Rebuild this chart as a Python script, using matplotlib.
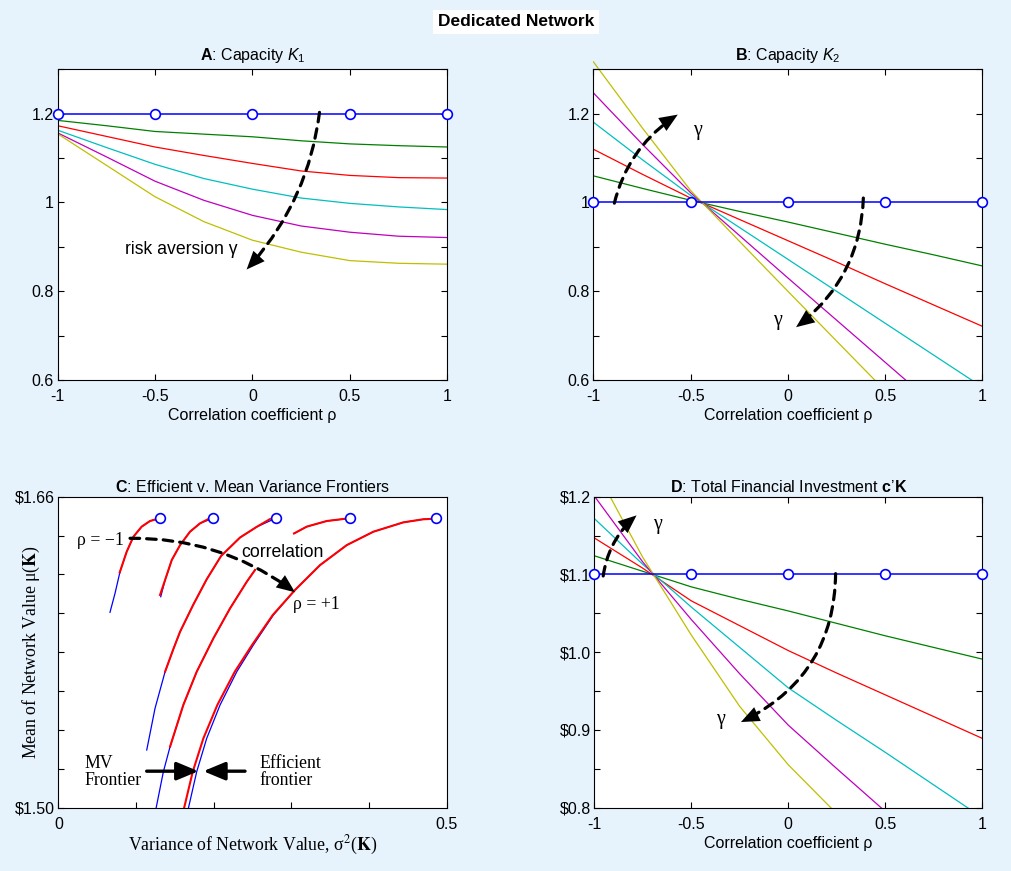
import matplotlib
matplotlib.use("Agg")
import matplotlib.pyplot as plt
import numpy as np
from matplotlib.transforms import Bbox, TransformedBbox

SANS = ["Liberation Sans", "DejaVu Sans"]
SERIF = ["Liberation Serif", "DejaVu Serif"]

# correlation grid and the risk-neutral reference points
rho = [-1, -0.75, -0.5, -0.25, 0, 0.25, 0.5, 0.75, 1]
rho_marks = [-1, -0.5, 0, 0.5, 1]

# one row per risk aversion level (low -> high)
capacity_k1 = [
    [1.185, 1.173, 1.160, 1.154, 1.148, 1.139, 1.132, 1.128, 1.125],
    [1.173, 1.149, 1.125, 1.106, 1.088, 1.071, 1.061, 1.056, 1.055],
    [1.163, 1.124, 1.086, 1.054, 1.030, 1.010, 0.998, 0.990, 0.984],
    [1.157, 1.103, 1.048, 1.005, 0.971, 0.947, 0.933, 0.924, 0.921],
    [1.155, 1.084, 1.013, 0.957, 0.915, 0.888, 0.869, 0.863, 0.861],
]
capacity_k1_neutral = [1.2, 1.2, 1.2, 1.2, 1.2]

capacity_k2 = [
    [1.060, 1.032, 1.005, 0.980, 0.956, 0.931, 0.906, 0.882, 0.857],
    [1.120, 1.064, 1.010, 0.962, 0.914, 0.866, 0.817, 0.769, 0.721],
    [1.181, 1.097, 1.016, 0.944, 0.872, 0.800, 0.728, 0.656, 0.584],
    [1.247, 1.132, 1.022, 0.926, 0.830, 0.735, 0.640, 0.545, 0.450],
    [1.317, 1.169, 1.027, 0.913, 0.800, 0.688, 0.576, 0.463, 0.350],
]
capacity_k2_neutral = [1.0, 1.0, 1.0, 1.0, 1.0]

investment = [
    [1.124, 1.104, 1.084, 1.068, 1.053, 1.037, 1.021, 1.006, 0.991],
    [1.147, 1.108, 1.066, 1.034, 1.002, 0.973, 0.945, 0.917, 0.889],
    [1.172, 1.113, 1.058, 1.006, 0.954, 0.912, 0.871, 0.829, 0.787],
    [1.201, 1.116, 1.042, 0.972, 0.906, 0.850, 0.795, 0.739, 0.682],
    [1.238, 1.122, 1.022, 0.930, 0.855, 0.792, 0.720, 0.650, 0.580],
]
investment_neutral = [1.1, 1.1, 1.1, 1.1, 1.1]

# frontiers, one list per correlation (rho = -1 ... +1); nan marks a gap
mv_var = [
    [0.0665, 0.0730, 0.0794, 0.0880, 0.0966, 0.1073, 0.1180, 0.1309],
    [0.1318, 0.1374, 0.1460, 0.1567, 0.1695, 0.1824, 0.1988],
    [0.1138, 0.1245, 0.1374, 0.1480, 0.1567, 0.1738, 0.1910, 0.2095,
     0.2339, 0.2554, 0.2798],
    [0.1258, 0.1352, 0.1438, 0.1609, 0.1781, 0.1996, 0.2210, 0.2425,
     0.2532, np.nan, 0.3034, 0.3198, 0.3455, 0.3755],
    [0.1674, 0.1781, 0.1910, 0.2082, 0.2297, 0.2511, 0.2768, 0.3047,
     0.3369, 0.3713, 0.4056, 0.4441, 0.4699, 0.4862],
]
mv_mean = [
    [1.6005, 1.6103, 1.6214, 1.6317, 1.6394, 1.6446, 1.6475, 1.6489],
    [1.6085, 1.6171, 1.6274, 1.6351, 1.6420, 1.6463, 1.6489],
    [1.5296, 1.5511, 1.5699, 1.5815, 1.5905, 1.6045, 1.6175, 1.6295,
     1.6390, 1.6445, 1.6489],
    [1.4996, 1.5184, 1.5313, 1.5528, 1.5699, 1.5871, 1.6025, 1.6162,
     1.6223, np.nan, 1.6411, 1.6446, 1.6475, 1.6489],
    [1.4996, 1.5184, 1.5356, 1.5528, 1.5699, 1.5837, 1.5991, 1.6120,
     1.6248, 1.6351, 1.6420, 1.6468, 1.6484, 1.6489],
]
eff_var = [
    [0.0790, 0.0880, 0.0966, 0.1073, 0.1180, 0.1266],
    [0.1309, 0.1374, 0.1460, 0.1567, 0.1695, 0.1824, 0.1931],
    [0.1374, 0.1480, 0.1567, 0.1738, 0.1910, 0.2095, 0.2339, 0.2554, 0.2725],
    [0.1438, 0.1609, 0.1781, 0.1996, 0.2210, 0.2425, 0.2532, np.nan,
     0.3034, 0.3198, 0.3455, 0.3680],
    [0.1618, 0.1730, 0.1867, 0.2047, 0.2271, 0.2494, 0.2760, 0.3047,
     0.3369, 0.3713, 0.4056, 0.4441, 0.4699, 0.4807],
]
eff_mean = [
    [1.6210, 1.6317, 1.6394, 1.6446, 1.6475, 1.6485],
    [1.6094, 1.6171, 1.6274, 1.6351, 1.6420, 1.6463, 1.6485],
    [1.5699, 1.5815, 1.5905, 1.6045, 1.6175, 1.6295, 1.6390, 1.6445, 1.6485],
    [1.5313, 1.5528, 1.5699, 1.5871, 1.6025, 1.6162, 1.6223, np.nan,
     1.6411, 1.6446, 1.6475, 1.6486],
    [1.4996, 1.5184, 1.5356, 1.5528, 1.5699, 1.5837, 1.5991, 1.6120,
     1.6248, 1.6351, 1.6420, 1.6468, 1.6484, 1.6486],
]

GAMMA_COLORS = ["#008000", "#FF0000", "#00BFBF", "#BF00BF", "#BFBF00"]
BG = "#E6F3FD"

plt.rcParams.update({
    "font.family": SANS,
    "font.size": 11.5,
    "mathtext.fontset": "custom",
    "mathtext.rm": "Liberation Sans",
    "mathtext.it": "Liberation Sans:italic",
    "mathtext.bf": "Liberation Sans:bold",
    "axes.linewidth": 0.8,
    "xtick.direction": "in",
    "ytick.direction": "in",
    "xtick.major.size": 4,
    "ytick.major.size": 4,
    "xtick.major.width": 0.8,
    "ytick.major.width": 0.8,
    "xtick.major.pad": 6.5,
    "ytick.major.pad": 2.5,
})

HEAD = "-|>,head_length=0.6,head_width=0.25"


def dashed_arrow(ax, start, end, rad):
    conn = f"arc3,rad={rad}"
    # dashed shaft, then a solid filled head laid over its end
    ax.annotate("", xy=end, xytext=start, zorder=8,
                arrowprops=dict(arrowstyle="-", connectionstyle=conn,
                                linestyle=(0, (3, 2.2)), lw=2.3, color="k",
                                shrinkA=0, shrinkB=6))
    ax.annotate("", xy=end, xytext=start, zorder=9,
                arrowprops=dict(arrowstyle=HEAD, connectionstyle=conn, lw=0,
                                color="k", mutation_scale=22,
                                shrinkA=0, shrinkB=0))


def solid_arrow(ax, start, end):
    ax.annotate("", xy=end, xytext=start, zorder=8,
                arrowprops=dict(arrowstyle=HEAD, lw=2.4, color="k",
                                mutation_scale=22, shrinkA=0, shrinkB=0))


def rho_panel(ax, curves, neutral, ylim, yticks, ylabels):
    lines = []
    for vals, col in zip(curves, GAMMA_COLORS):
        ln, = ax.plot(rho, vals, color=col, lw=0.9)
        lines.append(ln)
    ax.plot(rho_marks, neutral, color="#0000FF", lw=1.1, marker="o", ms=7,
            mfc="white", mec="#0000FF", mew=1.2, clip_on=False, zorder=6)
    ax.set_xlim(-1, 1)
    ax.set_ylim(*ylim)
    ax.set_xticks(rho_marks, ["-1", "-0.5", "0", "0.5", "1"])
    ax.set_yticks(yticks, ylabels)
    ax.tick_params(top=True, right=True)
    ax.set_xlabel("Correlation coefficient ρ", labelpad=3)
    return lines


fig = plt.figure(figsize=(10.11, 8.71), dpi=100, facecolor=BG)
fig.text(0.5104, 1 - 22 / 871, "Dedicated Network", ha="center", va="center",
         fontsize=12.5, fontweight="bold",
         bbox=dict(boxstyle="square,pad=0.25", fc="white", ec="none"))

axA = fig.add_axes([0.0569, 0.5637, 0.3856, 0.3567])
axB = fig.add_axes([0.5869, 0.5637, 0.3848, 0.3567])
axC = fig.add_axes([0.0577, 0.0729, 0.3842, 0.3568])
axD = fig.add_axes([0.5878, 0.0729, 0.3838, 0.3568])

k_ticks = [0.6, 0.7, 0.8, 0.9, 1.0, 1.1, 1.2, 1.3]
k_labels = ["0.6", "", "0.8", "", "1", "", "1.2", ""]

# A: capacity K1
rho_panel(axA, capacity_k1, capacity_k1_neutral, (0.6, 1.3), k_ticks, k_labels)
axA.set_title(r"$\mathbf{A}$: Capacity $K_1$", fontsize=11.5, pad=7)
dashed_arrow(axA, (0.344, 1.203), (-0.03, 0.849), -0.16)
axA.text(-0.653, 0.893, "risk aversion γ", fontsize=12.7, va="center", ha="left")

# B: capacity K2 (steepest line runs a little past the top of the box)
linesB = rho_panel(axB, capacity_k2, capacity_k2_neutral, (0.6, 1.3), k_ticks, k_labels)
for ln in linesB:
    ln.set_clip_box(TransformedBbox(Bbox([[-1, 0.6], [1, 1.33]]), axB.transData))
axB.set_title(r"$\mathbf{B}$: Capacity $K_2$", fontsize=11.5, pad=7)
dashed_arrow(axB, (-0.892, 0.9985), (-0.566, 1.198), -0.2)
dashed_arrow(axB, (0.388, 1.010), (0.042, 0.719), -0.24)
axB.text(-0.486, 1.162, "γ", family=SERIF, fontsize=14.5, ha="left", va="center")
axB.text(-0.075, 0.734, "γ", family=SERIF, fontsize=14.5, ha="left", va="center")

# D: total financial investment
d_ticks = [0.8, 0.85, 0.9, 0.95, 1.0, 1.05, 1.1, 1.15, 1.2]
d_labels = ["$0.8", "", "$0.9", "", "$1.0", "", "$1.1", "", "$1.2"]
rho_panel(axD, investment, investment_neutral, (0.8, 1.2), d_ticks, d_labels)
axD.set_title(r"$\mathbf{D}$: Total Financial Investment $\mathbf{c}$’$\mathbf{K}$",
              fontsize=11.5, pad=3.5)
dashed_arrow(axD, (-0.954, 1.098), (-0.782, 1.176), -0.19)
dashed_arrow(axD, (0.244, 1.101), (-0.244, 0.910), -0.31)
axD.text(-0.696, 1.164, "γ", family=SERIF, fontsize=14.5, ha="left", va="center")
axD.text(-0.37, 0.913, "γ", family=SERIF, fontsize=14.5, ha="left", va="center")

# C: efficient vs mean-variance frontiers
for xv, yv in zip(mv_var, mv_mean):
    axC.plot(xv, yv, color="#0000FF", lw=0.9)
for xv, yv in zip(eff_var, eff_mean):
    axC.plot(xv, yv, color="#FF0000", lw=1.5)
for xv, yv in zip(mv_var, mv_mean):
    axC.plot(xv[-1], yv[-1], "o", ms=7, mfc="white", mec="#0000FF", mew=1.2, zorder=6)
axC.set_xlim(0, 0.5)
axC.set_ylim(1.50, 1.66)
axC.set_xticks([0, 0.1, 0.2, 0.3, 0.4, 0.5], ["0", "", "", "", "", "0.5"])
c_ticks = [1.50, 1.52, 1.54, 1.56, 1.58, 1.60, 1.62, 1.64, 1.66]
axC.set_yticks(c_ticks, ["$1.50"] + [""] * 7 + ["$1.66"])
axC.set_title(r"$\mathbf{C}$: Efficient v. Mean Variance Frontiers", fontsize=11.5, pad=3.5)
axC.set_xlabel(r"Variance of Network Value, σ$^2$($\mathbf{K}$)", family=SERIF,
               fontsize=12.8, math_fontfamily="stix", labelpad=2)
axC.set_ylabel(r"Mean of Network Value μ($\mathbf{K}$)", family=SERIF,
               fontsize=12.8, math_fontfamily="stix", va="center")
axC.yaxis.set_label_coords(-0.07, 0.5)

dashed_arrow(axC, (0.0923, 1.6386), (0.3047, 1.6108), -0.17)
solid_arrow(axC, (0.1137, 1.5187), (0.1803, 1.5187))
solid_arrow(axC, (0.2403, 1.5187), (0.1867, 1.5187))
axC.text(0.0236, 1.6377, "ρ = −1", family=SERIF, fontsize=12.8, va="center", ha="left")
axC.text(0.3026, 1.6045, "ρ = +1", family=SERIF, fontsize=12.8, va="center", ha="left")
axC.text(0.236, 1.6312, "correlation", fontsize=12.7, va="center", ha="left")
axC.text(0.0335, 1.5185, "MV\nFrontier", family=SERIF, fontsize=12.8,
         va="center", ha="left", linespacing=1.0)
axC.text(0.2584, 1.5185, "Efficient\nfrontier", family=SERIF, fontsize=12.8,
         va="center", ha="left", linespacing=1.0)

for ax in (axA, axB, axC, axD):
    ax.set_facecolor("white")

fig.savefig("out.png", dpi=100, facecolor=BG)
